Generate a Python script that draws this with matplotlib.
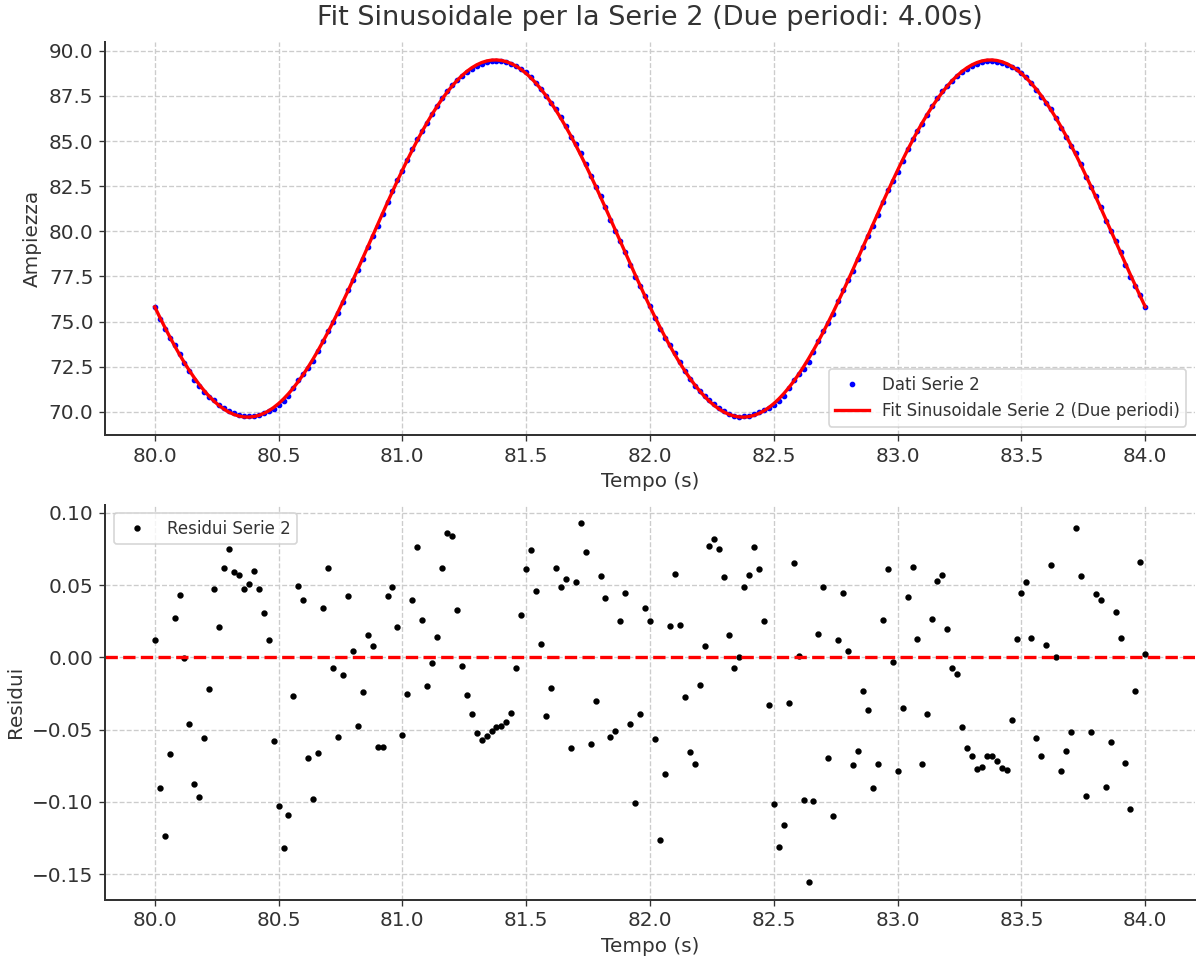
import numpy as np
import matplotlib
matplotlib.use("Agg")
import matplotlib.pyplot as plt

# Tempo campionato (s)
t = np.linspace(80.0, 84.0, 201)

# Parametri del fit sinusoidale
offset = 79.6
amp = 9.9
period = 2.0
t_min = 80.375

# Residui Serie 2
residui = [
    0.0123, -0.0905, -0.1236, -0.0671, 0.0275, 0.0433, -0.0005, -0.0461, -0.0877, -0.0965,
    -0.0558, -0.0222, 0.0470, 0.0208, 0.0616, 0.0748, 0.0590, 0.0569, 0.0470, 0.0509,
    0.0595, 0.0470, 0.0306, 0.0120, -0.0579,
    -0.1030, -0.1317, -0.1093, -0.0266, 0.0491, 0.0398, -0.0695, -0.0982, -0.0660, 0.0343,
    0.0620, -0.0072, -0.0553, -0.0120, 0.0424, 0.0046, -0.0472, -0.0243, 0.0157, 0.0081,
    -0.0618, -0.0620, 0.0424, 0.0484, 0.0213,
    -0.0535, -0.0250, 0.0396, 0.0762, 0.0259, -0.0199, -0.0042, 0.0141, 0.0620, 0.0863,
    0.0838, 0.0329, -0.0060, -0.0259, -0.0391, -0.0523, -0.0572, -0.0544, -0.0512, -0.0484,
    -0.0477, -0.0447, -0.0382, -0.0072, 0.0294,
    0.0613, 0.0741, 0.0458, 0.0090, -0.0403, -0.0215, 0.0618, 0.0488, 0.0539, -0.0630,
    0.0519, 0.0931, 0.0727, -0.0600, -0.0301, 0.0560, 0.0407, -0.0549, -0.0509, 0.0248,
    0.0442, -0.0463, -0.1007, -0.0389, 0.0340,
    0.0248, -0.0565, -0.1266, -0.0808, 0.0218, 0.0579, 0.0222, -0.0271, -0.0657, -0.0738,
    -0.0190, 0.0076, 0.0771, 0.0817, 0.0752, 0.0553, 0.0153, -0.0076, 0.0000, 0.0484,
    0.0569, 0.0766, 0.0613, 0.0250, -0.0331,
    -0.1012, -0.1313, -0.1160, -0.0319, 0.0650, 0.0012, -0.0988, -0.1551, -0.0993, 0.0162,
    0.0484, -0.0695, -0.1100, 0.0123, 0.0442, 0.0044, -0.0745, -0.0650, -0.0234, -0.0366,
    -0.0905, -0.0736, 0.0259, 0.0611, -0.0032, -0.0787,
    -0.0352, 0.0414, 0.0625, 0.0125, -0.0738, -0.0391, 0.0264, 0.0525, 0.0569, 0.0199,
    -0.0076, -0.0116, -0.0482, -0.0630, -0.0681, -0.0771, -0.0755, -0.0681, -0.0681, -0.0718,
    -0.0762, -0.0782, -0.0433, 0.0125, 0.0442,
    0.0523, 0.0132, -0.0558, -0.0685, 0.0086, 0.0637, 0.0005, -0.0787, -0.0646, -0.0514,
    0.0896, 0.0565, -0.0956, -0.0514, 0.0438, 0.0398, -0.0894, -0.0583, 0.0315, 0.0132,
    -0.0732, -0.1049, -0.0234, 0.0657, 0.0021,
]
residui = np.array(residui)

fit = offset - amp * np.cos(2 * np.pi * (t - t_min) / period)
dati = fit + residui

plt.rcParams["font.size"] = 12
plt.rcParams["text.color"] = "#333333"
plt.rcParams["axes.labelcolor"] = "#333333"
plt.rcParams["xtick.color"] = "#333333"
plt.rcParams["ytick.color"] = "#333333"

fig = plt.figure(figsize=(1196 / 120, 956 / 120), dpi=120)
ax1 = fig.add_axes([0.088, 0.545, 0.911, 0.411])
ax2 = fig.add_axes([0.088, 0.059, 0.911, 0.413])

ax1.plot(t, dati, "o", color="blue", markersize=2.4, label="Dati Serie 2")
ax1.plot(t, fit, "-", color="red", linewidth=2, label="Fit Sinusoidale Serie 2 (Due periodi)")
ax1.set_title("Fit Sinusoidale per la Serie 2 (Due periodi: 4.00s)", fontsize=16.3, pad=10)
ax1.set_xlabel("Tempo (s)")
ax1.set_ylabel("Ampiezza")
ax1.legend(loc="lower right", fontsize=10)

ax2.plot(t, residui, "o", color="black", markersize=2.8, label="Residui Serie 2")
ax2.axhline(0, color="red", linestyle="--", linewidth=2)
ax2.set_xlabel("Tempo (s)")
ax2.set_ylabel("Residui")
ax2.legend(loc="upper left", fontsize=10)

for ax in (ax1, ax2):
    ax.grid(True, linestyle="--", color="#cccccc", linewidth=0.8)
    ax.spines["top"].set_visible(False)
    ax.spines["right"].set_visible(False)
    ax.spines["left"].set_color("#333333")
    ax.spines["bottom"].set_color("#333333")
    ax.spines["left"].set_linewidth(1.2)
    ax.spines["bottom"].set_linewidth(1.2)

fig.savefig("out.png", dpi=120)
